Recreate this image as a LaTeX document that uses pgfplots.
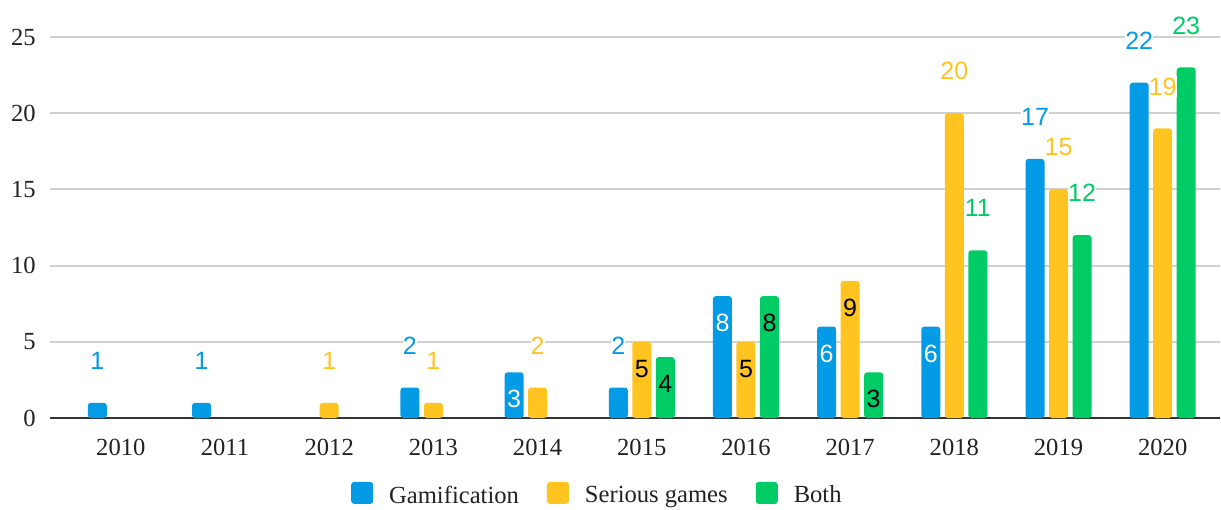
\documentclass[border=0pt]{standalone}
\usepackage{pgfplots}
\pgfplotsset{compat=1.18}
\usepackage{fontspec}
\setmainfont{Liberation Serif}
\newfontfamily\lblfont{Liberation Sans}
\definecolor{cG}{RGB}{3,155,229}
\definecolor{cS}{RGB}{255,196,32}
\definecolor{cB}{RGB}{0,204,102}
\definecolor{gridc}{RGB}{208,208,208}
\definecolor{txt}{RGB}{34,34,34}
\pgfplotsset{
  sq/.style={legend image code/.code={\fill[##1, rounded corners=1.5pt] (0pt,-4pt) rectangle (11pt,7pt);}},
  outlbl/.style 2 args={draw=none, fill=none, forget plot, bar shift=#2,
    nodes near coords, point meta=y,
    nodes near coords style={font=\lblfont\fontsize{12.5}{12.5}\selectfont, text=#1, fill=white, inner xsep=0pt, inner ysep=1pt, anchor=center, yshift=21pt}},
  inlbl/.style 2 args={draw=none, fill=none, forget plot, bar shift=#2,
    nodes near coords, point meta=y,
    nodes near coords style={font=\lblfont\fontsize{12.5}{12.5}\selectfont, text=#1, inner sep=1pt, anchor=center, yshift=-13.5pt}},
}
\begin{document}
\begin{tikzpicture}
\useasboundingbox (-25pt,-45.5pt) rectangle (585.5pt,209pt);
\begin{axis}[
  scale only axis, width=585pt, height=190.5pt,
  xmin=-0.68, xmax=10.55, ymin=0, ymax=25,
  ybar, bar width=9.5pt,
  axis x line=bottom, axis y line=left,
  x axis line style={-, draw=black!80, line width=1pt},
  y axis line style={draw=none},
  major tick length=0pt,
  xtick={0,...,10},
  xticklabels={2010,2011,2012,2013,2014,2015,2016,2017,2018,2019,2020},
  ytick={0,5,10,15,20,25},
  ymajorgrids, grid style={gridc, line width=1pt},
  /pgf/number format/assume math mode=true,
  tick label style={font=\fontsize{12.3}{14}\selectfont, text=txt},
  xticklabel style={anchor=north, inner sep=0pt, yshift=-10.5pt},
  yticklabel style={anchor=east, inner sep=0pt, xshift=-7pt},
  clip=false,
  legend columns=3,
  legend style={at={(0.467,0)}, anchor=center, yshift=-38pt, draw=none, fill=none,
    font=\fontsize{12.3}{14}\selectfont, text=txt, nodes={inner sep=0pt},
    /tikz/every even column/.append style={column sep=14pt},
    /tikz/every odd column/.append style={column sep=8pt}},
]
\addplot[sq, fill=cG, draw=none, bar shift=-11.75pt, rounded corners=1.5pt] coordinates {(0,1)(1,1)(3,2)(4,3)(5,2)(6,8)(7,6)(8,6)(9,17)(10,22)};
\addlegendentry{Gamification}
\addplot[sq, fill=cS, draw=none, bar shift=0pt, rounded corners=1.5pt] coordinates {(2,1)(3,1)(4,2)(5,5)(6,5)(7,9)(8,20)(9,15)(10,19)};
\addlegendentry{Serious games}
\addplot[sq, fill=cB, draw=none, bar shift=11.75pt, rounded corners=1.5pt] coordinates {(5,4)(6,8)(7,3)(8,11)(9,12)(10,23)};
\addlegendentry{Both}
% labels
\addplot[outlbl={cG}{-11.75pt}] coordinates {(0,1)(1,1)(3,2)(5,2)(9,17)(10,22)};
\addplot[inlbl={white}{-11.75pt}] coordinates {(4,3)(6,8)(7,6)(8,6)};
\addplot[outlbl={cS}{0pt}] coordinates {(2,1)(3,1)(4,2)(8,20)(9,15)(10,19)};
\addplot[inlbl={black}{0pt}] coordinates {(5,5)(6,5)(7,9)};
\addplot[outlbl={cB}{11.75pt}] coordinates {(8,11)(9,12)(10,23)};
\addplot[inlbl={black}{11.75pt}] coordinates {(5,4)(6,8)(7,3)};
\end{axis}
\end{tikzpicture}
\end{document}
